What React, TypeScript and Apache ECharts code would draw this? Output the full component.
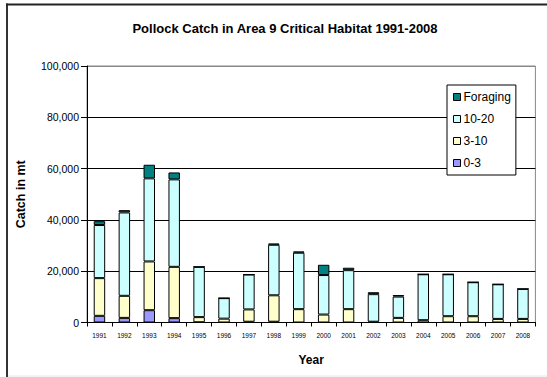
import React, { useEffect, useRef } from "react";
import * as echarts from "echarts";

const years = ["1991","1992","1993","1994","1995","1996","1997","1998","1999","2000","2001","2002","2003","2004","2005","2006","2007","2008"];
const age0to3 = [2600, 1800, 4800, 1700, 100, 0, 300, 300, 0, 0, 0, 0, 0, 0, 0, 0, 0, 0];
const age3to10 = [14700, 8600, 19000, 20000, 2000, 1500, 4800, 10300, 5200, 3100, 5200, 300, 1800, 900, 2450, 2450, 1400, 1400];
const age10to20 = [20700, 32500, 32400, 34100, 19600, 8000, 13600, 19700, 22000, 15400, 15200, 10750, 8300, 17900, 16350, 13250, 13500, 11700];
const foraging = [1500, 900, 5300, 2700, 0, 0, 0, 500, 500, 4000, 950, 750, 600, 0, 0, 0, 0, 0];
const yTicks = [0, 20000, 40000, 60000, 80000, 100000];

export default function App() {
  const ref = useRef<HTMLDivElement>(null);
  useEffect(() => {
    if (!ref.current) return;
    const chart = echarts.init(ref.current, null, { renderer: "svg" });
    const font = "Arial, 'Liberation Sans', sans-serif";
    const barStyle = (color: string) => ({ color, borderColor: "#000", borderWidth: 1 });
    const mk = (name: string, data: number[], color: string) => ({
      name,
      type: "bar",
      stack: "total",
      data,
      barWidth: "46%",
      itemStyle: barStyle(color),
      emphasis: { disabled: true },
    });
    chart.setOption({
      animation: false,
      backgroundColor: "#fff",
      textStyle: { fontFamily: font },
      title: {
        text: "Pollock Catch in Area 9 Critical Habitat 1991-2008",
        left: 280,
        top: 17,
        textAlign: "center",
        textStyle: { fontSize: 13, fontWeight: "bold", color: "#000", fontFamily: font },
      },
      grid: {
        left: 87,
        right: 11.6,
        top: 66,
        bottom: 54.5,
        show: true,
        borderColor: "#888",
        borderWidth: 1,
        backgroundColor: "#fff",
      },
      legend: {
        orient: "vertical",
        left: 447,
        top: 85,
        data: ["Foraging", "10-20", "3-10", "0-3"],
        backgroundColor: "#fff",
        borderColor: "#000",
        borderWidth: 1,
        borderRadius: 0,
        padding: [5, 5, 5, 6],
        itemGap: 8,
        itemWidth: 7,
        itemHeight: 7,
        icon: "rect",
        itemStyle: { borderColor: "#000", borderWidth: 1 },
        textStyle: { fontSize: 12, color: "#000", fontFamily: font, lineHeight: 14, padding: [0, 0, 0, -2] },
      },
      xAxis: {
        type: "category",
        data: years,
        name: "Year",
        nameLocation: "middle",
        nameGap: 31.5,
        nameTextStyle: { fontSize: 12, fontWeight: "bold", color: "#000", fontFamily: font },
        axisLine: { lineStyle: { color: "#000", width: 1 } },
        axisTick: { show: true, alignWithLabel: false, length: 4, lineStyle: { color: "#000" } },
        axisLabel: { fontSize: 6.5, color: "#000", margin: 9, interval: 0, fontFamily: font },
      },
      yAxis: {
        type: "value",
        min: yTicks[0],
        max: yTicks[yTicks.length - 1],
        interval: yTicks[1] - yTicks[0],
        name: "Catch in mt",
        nameLocation: "middle",
        nameRotate: 90,
        nameGap: 60,
        nameTextStyle: { fontSize: 12.5, fontWeight: "bold", color: "#000", fontFamily: font },
        axisLine: { show: true, lineStyle: { color: "#000", width: 1 } },
        axisTick: { show: true, length: 6, lineStyle: { color: "#000" } },
        axisLabel: {
          fontSize: 10.5,
          color: "#000",
          margin: 8,
          fontFamily: font,
          formatter: (v: number) => v.toLocaleString("en-US"),
        },
        splitLine: {
          show: true,
          lineStyle: { color: ["#000", "#000", "#000", "#000", "#000", "#888"], width: 1 },
        },
      },
      graphic: [
        { type: "line", shape: { x1: 7, y1: 3.5, x2: 7, y2: 377 }, style: { stroke: "#333", lineWidth: 2 } },
        { type: "line", shape: { x1: 6, y1: 4.5, x2: 547, y2: 4.5 }, style: { stroke: "#222", lineWidth: 2 } },
        { type: "line", shape: { x1: 8, y1: 376, x2: 547, y2: 376 }, style: { stroke: "#e6e6e6", lineWidth: 1 } },
      ],
      series: [
        mk("0-3", age0to3, "#9999FF"),
        mk("3-10", age3to10, "#FFFFCC"),
        mk("10-20", age10to20, "#CCFFFF"),
        mk("Foraging", foraging, "#008080"),
      ],
    });
    return () => chart.dispose();
  }, []);
  return (
    <div
      ref={ref}
      style={{ position: "absolute", left: 0, top: 0, width: 547, height: 377 }}
    />
  );
}
